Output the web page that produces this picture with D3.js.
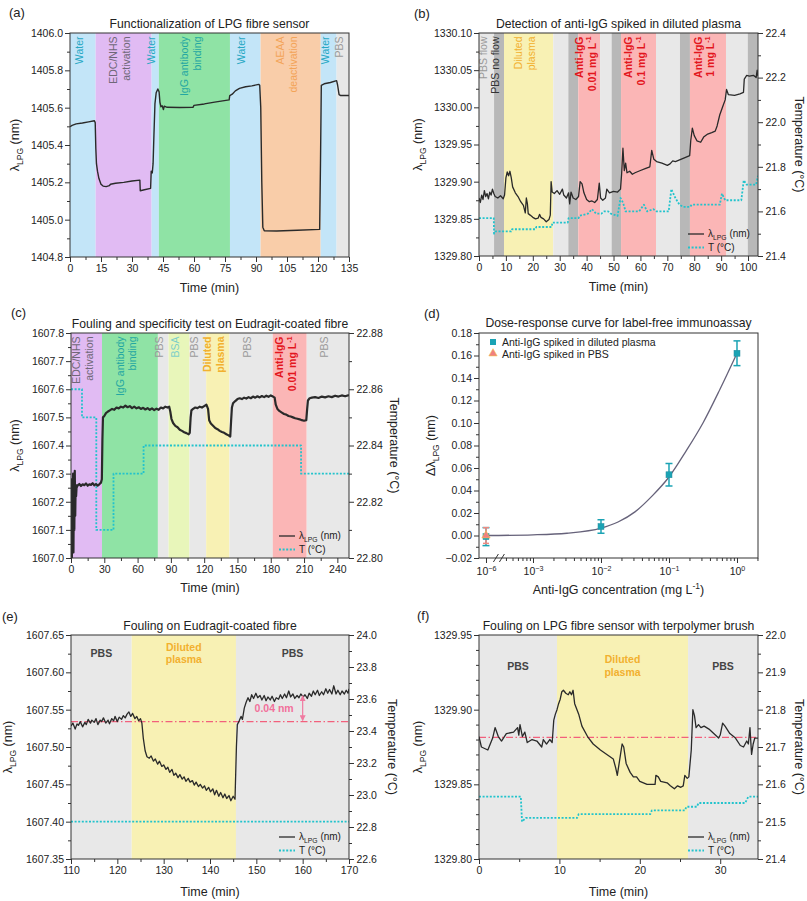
<!DOCTYPE html>
<html><head><meta charset="utf-8">
<script src="https://cdn.jsdelivr.net/npm/d3@7"></script>
<style>body{margin:0;background:#fff}svg{font-family:"Liberation Sans",Arial,sans-serif}</style>
</head><body><svg id="c" width="807" height="901"></svg>
<script>
// ---------------- DATA ----------------
// Panel (a)
const bandsA = [[0,12.4,"water",["Water"]],[12.4,39.5,"edc",["EDC/NHS","activation"]],[39.5,43,"water",["Water"]],[43,77.4,"igg",["IgG antibody","binding"]],[77.4,92.2,"water",["Water"]],[92.2,121.3,"aeaa",["AEAA","deactivation"]],[121.3,129,"water",["Water"]],[129,135,"pbs",["PBS"]]];
const lineA = [[0,1405.498],[1,1405.505],[3,1405.513],[6,1405.518],[9,1405.524],[11.8,1405.53],[12.2,1405.52],[12.5,1405.38],[12.8,1405.3],[13.3,1405.26],[14,1405.22],[15,1405.19],[16,1405.18],[17.5,1405.177],[19,1405.182],[19.6,1405.19],[22,1405.195],[26,1405.2],[30,1405.207],[33.8,1405.212],[34,1405.155],[36,1405.16],[39,1405.168],[39.3,1405.26],[39.8,1405.25],[40.2,1405.3],[40.6,1405.45],[41.1,1405.62],[41.7,1405.68],[42.5,1405.7],[43.1,1405.685],[43.5,1405.63],[44,1405.605],[44.6,1405.61],[45.2,1405.59],[45.6,1405.608],[47,1405.602],[53,1405.601],[59.5,1405.602],[60,1405.612],[65,1405.62],[70,1405.63],[77,1405.642],[77.3,1405.665],[78.5,1405.672],[80,1405.69],[82,1405.703],[85,1405.712],[88,1405.717],[91.3,1405.725],[91.8,1405.72],[92.3,1405.6],[92.8,1405.2],[93.3,1404.96],[94,1404.94],[100,1404.939],[110,1404.943],[120.8,1404.948],[121.2,1405.3],[121.6,1405.72],[123,1405.728],[126,1405.735],[129,1405.745],[129.5,1405.72],[130.2,1405.67],[131,1405.665],[135,1405.665]];
const xTicksA = [0,15,30,45,60,75,90,105,120,135];
const yTicksA = [1404.8,1405.0,1405.2,1405.4,1405.6,1405.8,1406.0];

// Panel (b)
const bandsB = [[0,5.6,"pbs",["PBS flow"]],[5.6,9.3,"noflow",["PBS no flow"]],[9.3,27.6,"plasma",["Diluted","plasma"]],[27.6,33.2,"pbs",[]],[33.2,36.9,"noflow",[]],[36.9,45,"anti",["Anti-IgG","0.01 mg L^{-1}"]],[45,49.3,"pbs",[]],[49.3,52.8,"noflow",[]],[52.8,65.8,"anti",["Anti-IgG","0.1 mg L^{-1}"]],[65.8,74.7,"pbs",[]],[74.7,78.4,"noflow",[]],[78.4,91.8,"anti",["Anti-IgG","1 mg L^{-1}"]],[91.8,99.9,"pbs",[]],[99.9,103.7,"noflow",[]]];
const lineB = [[0,1329.878],[0.5,1329.872],[1,1329.882],[1.5,1329.876],[2,1329.888],[2.5,1329.88],[3,1329.884],[3.5,1329.877],[4,1329.886],[4.5,1329.882],[5,1329.89],[5.5,1329.884],[6,1329.88],[7,1329.878],[8,1329.881],[9,1329.877],[9.5,1329.882],[10,1329.905],[10.5,1329.913],[11,1329.908],[11.5,1329.914],[12,1329.905],[12.5,1329.893],[13.5,1329.885],[14.5,1329.88],[15.5,1329.873],[16.5,1329.868],[17.2,1329.858],[17.6,1329.878],[18,1329.87],[18.3,1329.857],[19,1329.855],[20,1329.852],[21,1329.85],[22,1329.851],[22.5,1329.856],[23,1329.852],[24,1329.85],[25,1329.846],[26,1329.849],[26.5,1329.855],[26.8,1329.9],[27.2,1329.886],[28,1329.884],[29,1329.888],[30,1329.883],[31,1329.89],[31.5,1329.882],[32.5,1329.878],[33.3,1329.885],[33.7,1329.87],[34.2,1329.886],[35,1329.878],[36,1329.876],[37,1329.88],[37.6,1329.9],[38.3,1329.897],[39,1329.885],[40,1329.876],[41,1329.873],[42,1329.874],[43,1329.872],[44,1329.876],[44.7,1329.898],[45.2,1329.878],[46,1329.875],[47,1329.878],[47.5,1329.89],[48.5,1329.885],[50,1329.887],[51.5,1329.886],[52.6,1329.89],[53,1329.91],[53.5,1329.945],[54,1329.915],[54.5,1329.925],[55,1329.912],[56,1329.914],[57,1329.91],[58,1329.912],[60,1329.915],[62,1329.918],[63.5,1329.92],[64.2,1329.942],[65,1329.93],[66,1329.927],[68,1329.925],[70,1329.922],[71,1329.924],[72,1329.928],[73,1329.927],[75,1329.93],[77,1329.933],[78.3,1329.935],[78.7,1329.955],[79.3,1329.972],[80,1329.962],[81,1329.955],[82.4,1329.953],[83.5,1329.96],[85,1329.964],[86.5,1329.966],[87.8,1329.968],[88.5,1329.975],[89.5,1329.99],[90.5,1330.0],[91.5,1330.01],[92,1330.024],[92.7,1330.017],[95,1330.016],[97,1330.018],[98.3,1330.02],[98.6,1330.038],[99.5,1330.043],[100.5,1330.042],[102,1330.043],[103,1330.04],[103.4,1330.05],[103.7,1330.042]];
const tempB = [[0,21.57],[5.5,21.57],[5.6,21.50],[6.2,21.51],[12,21.51],[12.3,21.52],[21,21.52],[21.3,21.53],[27,21.53],[27.3,21.55],[33,21.55],[33.3,21.57],[37,21.57],[37.3,21.58],[40.5,21.59],[42,21.61],[43.5,21.59],[45.5,21.59],[46.5,21.6],[48,21.6],[49,21.59],[51.5,21.58],[52.6,21.66],[53.5,21.64],[54.5,21.6],[59.5,21.6],[61.3,21.63],[62.5,21.6],[64.8,21.61],[66,21.6],[70.5,21.6],[71.5,21.7],[73,21.66],[74.5,21.63],[76,21.62],[78.5,21.62],[79,21.63],[89.5,21.63],[90.3,21.68],[91.5,21.65],[97.5,21.65],[98.4,21.74],[99.5,21.72],[103,21.72],[103.7,21.76]];
const xTicksB = [0,10,20,30,40,50,60,70,80,90,100];
const yTicksB = [1329.80,1329.85,1329.90,1329.95,1330.00,1330.05,1330.10];
const yRTicksB = [21.4,21.6,21.8,22.0,22.2,22.4];

// Panel (c)
const bandsC = [[0,27.9,"edc",["EDC/NHS","activation"]],[27.9,78.3,"igg",["IgG antibody","binding"]],[78.3,87.9,"pbs",["PBS"]],[87.9,106.8,"bsa",["BSA"]],[106.8,121.8,"pbs",["PBS"]],[121.8,142.8,"plasma",["Diluted","plasma"]],[142.8,181.8,"pbs",["PBS"]],[181.8,212.4,"anti",["Anti-IgG","0.01 mg L^{-1}"]],[212.4,250.5,"pbs",["PBS"]]];
const lineC = [[0,1607.2],[0.4,1607.28],[0.8,1607.0],[1.2,1607.25],[1.5,1607.05],[1.9,1607.3],[2.2,1607.02],[2.6,1607.27],[3,1607.1],[3.4,1607.31],[3.8,1607.15],[4.2,1607.26],[4.6,1607.22],[5,1607.25],[6,1607.258],[7.5,1607.263],[9,1607.256],[10.5,1607.262],[12,1607.259],[13.5,1607.265],[15,1607.257],[16.5,1607.262],[18,1607.26],[19.5,1607.266],[21,1607.258],[22.5,1607.263],[24,1607.257],[25.5,1607.262],[27,1607.268],[27.8,1607.28],[28.3,1607.42],[28.8,1607.5],[30,1607.505],[31.5,1607.515],[33,1607.52],[35,1607.525],[37,1607.53],[39,1607.527],[41,1607.535],[43,1607.532],[45,1607.538],[47,1607.535],[49,1607.542],[51,1607.536],[53,1607.54],[55,1607.533],[57,1607.538],[59,1607.532],[61,1607.536],[63,1607.53],[65,1607.534],[67,1607.528],[69,1607.533],[71,1607.527],[73,1607.532],[75,1607.526],[77,1607.531],[79,1607.527],[81,1607.535],[83,1607.532],[85,1607.538],[87,1607.535],[88.5,1607.538],[89.5,1607.52],[90.5,1607.495],[92,1607.48],[94,1607.47],[96,1607.465],[98,1607.456],[100,1607.452],[102,1607.447],[104,1607.444],[106,1607.44],[107,1607.445],[107.8,1607.5],[108.5,1607.525],[110,1607.53],[112,1607.535],[114,1607.533],[116,1607.538],[118,1607.535],[120,1607.54],[122,1607.545],[123.5,1607.53],[124.5,1607.49],[126,1607.478],[128,1607.47],[130,1607.462],[132,1607.458],[134,1607.452],[136,1607.448],[138,1607.445],[140,1607.44],[142,1607.436],[143.5,1607.432],[144.3,1607.49],[145,1607.535],[146,1607.55],[148,1607.558],[150,1607.565],[152,1607.568],[154,1607.565],[156,1607.57],[158,1607.567],[160,1607.572],[162,1607.568],[164,1607.574],[166,1607.57],[168,1607.575],[170,1607.571],[172,1607.576],[174,1607.572],[176,1607.577],[178,1607.573],[180,1607.578],[182,1607.574],[183.5,1607.57],[184.5,1607.545],[186,1607.53],[188,1607.522],[190,1607.517],[192,1607.512],[194,1607.51],[196,1607.505],[198,1607.503],[200,1607.5],[202,1607.497],[204,1607.495],[206,1607.493],[208,1607.49],[210,1607.488],[212,1607.49],[212.8,1607.53],[213.5,1607.56],[215,1607.568],[217,1607.57],[220,1607.572],[223,1607.569],[226,1607.574],[229,1607.571],[232,1607.575],[235,1607.572],[238,1607.577],[241,1607.574],[244,1607.578],[247,1607.575],[250.5,1607.579]];
const tempC = [[0,22.86],[9.9,22.86],[9.9,22.85],[22.8,22.85],[22.8,22.81],[38.3,22.81],[38.3,22.83],[65.4,22.83],[65.4,22.84],[207.3,22.84],[207.3,22.83],[250.5,22.83]];
const xTicksC = [0,30,60,90,120,150,180,210,240];
const yTicksC = [1607.0,1607.1,1607.2,1607.3,1607.4,1607.5,1607.6,1607.7,1607.8];
const yRTicksC = [22.80,22.82,22.84,22.86,22.88];

// Panel (d)
const concD = [1e-6, 1e-2, 1e-1, 1];
const plasmaD = [-0.001, 0.008, 0.054, 0.162];
const plasmaErrD = [0.008, 0.006, 0.010, 0.011];
const pbsConcD = [1e-6];
const pbsD = [0.0];
const pbsErrD = [0.007];
const fitConcD = [1e-6, 1e-3, 3.16e-3, 1e-2, 1.78e-2, 3.16e-2, 5.62e-2, 0.1, 0.178, 0.316, 0.562, 1];
const fitD = [0.0, 0.0006, 0.002, 0.0065, 0.012, 0.021, 0.035, 0.052, 0.075, 0.1, 0.13, 0.162];
const xTicksD = [-6, -3, -2, -1, 0];
const yTicksD = [-0.02,0,0.02,0.04,0.06,0.08,0.10,0.12,0.14,0.16,0.18];

// Panel (e)
const bandsE = [[110,123.1,"pbs",["PBS"]],[123.1,145.6,"plasma",["Diluted","plasma"]],[145.6,170,"pbs",["PBS"]]];
const lineE = [[110,1607.528],[110.4,1607.532],[110.9,1607.524],[111.3,1607.531],[111.6,1607.529],[112,1607.534],[112.5,1607.527],[113,1607.533],[113.3,1607.53],[113.7,1607.537],[114.2,1607.532],[114.5,1607.536],[115,1607.533],[115.4,1607.538],[115.8,1607.53],[116.3,1607.536],[116.6,1607.534],[117,1607.539],[117.5,1607.532],[118,1607.536],[118.3,1607.531],[118.8,1607.538],[119.2,1607.535],[119.5,1607.541],[120,1607.534],[120.4,1607.54],[120.9,1607.537],[121.3,1607.542],[121.7,1607.539],[122.1,1607.544],[122.5,1607.547],[122.9,1607.541],[123.3,1607.545],[123.8,1607.538],[124.2,1607.541],[124.6,1607.535],[125,1607.538],[125.3,1607.532],[125.6,1607.512],[126,1607.495],[126.4,1607.487],[126.9,1607.485],[127.3,1607.488],[127.8,1607.481],[128.2,1607.484],[128.7,1607.477],[129.1,1607.481],[129.6,1607.474],[130,1607.476],[130.5,1607.47],[130.9,1607.473],[131.3,1607.466],[131.8,1607.47],[132.2,1607.462],[132.6,1607.465],[133.1,1607.459],[133.5,1607.463],[134,1607.457],[134.4,1607.46],[134.8,1607.454],[135.3,1607.458],[135.7,1607.453],[136.2,1607.455],[136.6,1607.449],[137,1607.453],[137.5,1607.447],[137.9,1607.45],[138.4,1607.445],[138.8,1607.448],[139.2,1607.442],[139.7,1607.446],[140.1,1607.44],[140.6,1607.444],[141,1607.436],[141.4,1607.442],[141.9,1607.434],[142.3,1607.439],[142.8,1607.432],[143.2,1607.437],[143.6,1607.431],[144.1,1607.435],[144.5,1607.428],[145,1607.434],[145.4,1607.43],[145.7,1607.5],[145.9,1607.53],[146.3,1607.535],[146.7,1607.541],[147,1607.537],[147.4,1607.552],[147.8,1607.56],[148.2,1607.566],[148.6,1607.561],[149,1607.57],[149.4,1607.565],[149.9,1607.572],[150.3,1607.566],[150.8,1607.569],[151.2,1607.563],[151.7,1607.569],[152.1,1607.562],[152.5,1607.567],[153,1607.563],[153.4,1607.568],[153.9,1607.561],[154.3,1607.566],[154.8,1607.564],[155.2,1607.57],[155.6,1607.565],[156.1,1607.571],[156.5,1607.566],[157,1607.575],[157.4,1607.567],[157.9,1607.571],[158.3,1607.565],[158.8,1607.569],[159.2,1607.566],[159.6,1607.571],[160.1,1607.567],[160.5,1607.57],[161,1607.565],[161.4,1607.572],[161.9,1607.568],[162.3,1607.575],[162.7,1607.57],[163.2,1607.576],[163.6,1607.569],[164.1,1607.574],[164.5,1607.57],[165,1607.578],[165.4,1607.572],[165.8,1607.577],[166.3,1607.571],[166.7,1607.582],[167.2,1607.571],[167.6,1607.576],[168.1,1607.57],[168.5,1607.575],[169,1607.571],[169.4,1607.576],[169.8,1607.572],[170,1607.578]];
const tempE = [[110,22.833],[170,22.833]];
const refE = 1607.534;
const shiftE = [1607.534, 1607.57, 160];
const xTicksE = [110,120,130,140,150,160,170];
const yTicksE = [1607.35,1607.40,1607.45,1607.50,1607.55,1607.60,1607.65];
const yRTicksE = [22.6,22.8,23.0,23.2,23.4,23.6,23.8,24.0];

// Panel (f)
const bandsF = [[0,9.7,"pbs",["PBS"]],[9.7,26.0,"plasma",["Diluted","plasma"]],[26.0,34.7,"pbs",["PBS"]]];
const lineF = [[0,1329.882],[0.3,1329.875],[1.1,1329.873],[1.7,1329.881],[2.0,1329.888],[2.4,1329.882],[2.8,1329.879],[3.4,1329.884],[4.3,1329.885],[4.8,1329.888],[4.95,1329.883],[5.1,1329.89],[5.4,1329.882],[5.7,1329.885],[6.0,1329.878],[6.6,1329.88],[7.2,1329.879],[7.8,1329.875],[8.0,1329.88],[8.4,1329.877],[8.8,1329.88],[9.1,1329.878],[9.3,1329.893],[9.5,1329.897],[9.7,1329.9],[9.9,1329.904],[10.1,1329.907],[10.3,1329.912],[10.5,1329.913],[10.8,1329.911],[11.1,1329.91],[11.3,1329.912],[11.5,1329.91],[11.7,1329.913],[11.9,1329.904],[12.4,1329.897],[12.8,1329.889],[13.5,1329.882],[14.2,1329.877],[15.1,1329.873],[15.9,1329.87],[16.7,1329.867],[17.0,1329.861],[17.2,1329.856],[17.6,1329.87],[17.8,1329.877],[18.0,1329.875],[18.3,1329.864],[18.8,1329.858],[19.2,1329.855],[19.6,1329.855],[20.0,1329.852],[20.9,1329.85],[21.9,1329.85],[22.0,1329.856],[22.3,1329.855],[22.6,1329.852],[23.4,1329.851],[23.8,1329.849],[24.3,1329.847],[24.7,1329.849],[25.1,1329.848],[25.4,1329.849],[25.6,1329.856],[25.9,1329.854],[26.1,1329.855],[26.4,1329.873],[26.6,1329.9],[26.8,1329.896],[27.0,1329.888],[27.3,1329.89],[27.6,1329.888],[28.0,1329.889],[28.6,1329.887],[29.4,1329.883],[29.8,1329.881],[30.0,1329.883],[30.3,1329.891],[30.6,1329.889],[31.2,1329.884],[31.9,1329.881],[32.5,1329.876],[32.9,1329.875],[33.3,1329.879],[33.5,1329.877],[33.7,1329.888],[33.9,1329.87],[34.1,1329.877],[34.3,1329.881],[34.7,1329.881]];
const tempF = [[0,21.567],[5.2,21.567],[5.35,21.50],[5.8,21.51],[12.2,21.51],[12.4,21.52],[21.3,21.52],[21.5,21.53],[25.6,21.53],[25.8,21.54],[27.1,21.54],[27.3,21.55],[33.1,21.55],[33.5,21.567],[34.7,21.567]];
const refF = 1329.8815;
const xTicksF = [0,10,20,30];
const yTicksF = [1329.80,1329.85,1329.90,1329.95];
const yRTicksF = [21.4,21.5,21.6,21.7,21.8,21.9,22.0];

// ---------------- STYLES ----------------
const bandFill = {water:"#c3e5f8", edc:"#e1bbf3", igg:"#8fe3a5", aeaa:"#f9cda9", pbs:"#e8e8e8", noflow:"#b8b8b8", plasma:"#f8f1b4", anti:"#fbb6b6", bsa:"#e8f6ba"};
const bandText = {water:"#27a8c4", edc:"#6f6878", igg:"#24a7a2", aeaa:"#f3a458", pbs:"#9a9a9a", noflow:"#333333", plasma:"#f2b02f", anti:"#e3151d", bsa:"#7ccfc9"};
const LINE = "#2a2a2a", TEMP = "#22c3cc", REF = "#f2607c";
const TITLE_FS = 12.2, AXT_FS = 12.5, TICK_FS = 10.5, BAND_FS = 10.5, LEG_FS = 10;
const svg = d3.select("#c");

function rich(sel, s, fs) {
  const parts = s.split(/(_\{[^}]*\}|\^\{[^}]*\})/);
  let off = 0;
  parts.forEach(p => {
    if (!p) return;
    let dy = 0, txt = p, size = fs;
    if (p.startsWith("_{")) { txt = p.slice(2,-1); size = fs*0.68; dy = fs*0.3 - off; off = fs*0.3; }
    else if (p.startsWith("^{")) { txt = p.slice(2,-1); size = fs*0.68; dy = -fs*0.4 - off; off = -fs*0.4; }
    else { dy = -off; off = 0; }
    sel.append("tspan").attr("dy", dy).attr("font-size", size).text(txt);
  });
  return sel;
}

function makePanel(o) {
  const g = svg.append("g").attr("transform", `translate(${o.left},${o.top})`);
  const {w, h, x, y} = o;
  const id = "clip" + o.tag;
  g.append("clipPath").attr("id", id).append("rect").attr("width", w).attr("height", h);
  const plot = g.append("g").attr("clip-path", `url(#${id})`);
  (o.bands || []).forEach(b => {
    plot.append("rect").attr("x", x(b[0])).attr("y", 0).attr("width", x(b[1]) - x(b[0])).attr("height", h).attr("fill", bandFill[b[2]]);
  });
  (o.bands || []).forEach(b => {
    const cx = (x(b[0]) + x(b[1])) / 2, n = b[3].length;
    b[3].forEach((s, i) => {
      if (o.horizLabels) {
        const t = g.append("text").attr("x", cx).attr("y", o.labelY + (i - (n - 1) / 2) * 12.5).attr("text-anchor", "middle")
          .attr("font-size", BAND_FS).attr("font-weight", "bold").attr("fill", b[2] === "pbs" ? "#444" : bandText[b[2]]);
        rich(t, s, BAND_FS);
      } else {
        const lx = cx + (i - (n - 1) / 2) * 12.8;
        const t = g.append("text").attr("transform", `translate(${lx},3.5) rotate(-90)`).attr("text-anchor", "end")
          .attr("dy", "0.36em").attr("font-size", BAND_FS).attr("fill", bandText[b[2]])
          .attr("font-weight", (b[2] === "anti" || (b[2] === "plasma" && o.boldPlasma)) ? "bold" : "normal");
        rich(t, s, BAND_FS);
      }
    });
  });
  return {g, plot};
}

function styleAxis(sel) {
  sel.selectAll(".domain").remove();
  sel.selectAll("line").attr("stroke", "#333");
  sel.selectAll("text").attr("font-size", TICK_FS).attr("fill", "#222").attr("font-family", '"Liberation Sans",Arial,sans-serif');
}
function minors(ticks, div) {
  const out = [];
  for (let i = 0; i < ticks.length - 1; i++) {
    const s = (ticks[i+1] - ticks[i]) / div;
    for (let k = 1; k < div; k++) out.push(ticks[i] + k * s);
  }
  return out;
}
function axes(P, o) {
  const {g} = P, {w, h, x, y} = o;
  const bx = g.append("g").attr("transform", `translate(0,${h})`)
    .call(d3.axisBottom(x).tickValues(o.xt).tickFormat(o.xf).tickSize(5).tickPadding(2.5));
  styleAxis(bx);
  if (o.xm) styleAxis(g.append("g").attr("transform", `translate(0,${h})`).call(d3.axisBottom(x).tickValues(o.xm).tickFormat("").tickSize(3)));
  const ly = g.append("g").call(d3.axisLeft(y).tickValues(o.yt).tickFormat(o.yf).tickSize(5).tickPadding(2));
  styleAxis(ly);
  styleAxis(g.append("g").call(d3.axisLeft(y).tickValues(minors(o.yt, o.ydiv)).tickFormat("").tickSize(3)));
  if (o.yR) {
    const ry = g.append("g").attr("transform", `translate(${w},0)`).call(d3.axisRight(o.yR).tickValues(o.yrt).tickFormat(o.yrf).tickSize(5).tickPadding(2.5));
    styleAxis(ry);
    styleAxis(g.append("g").attr("transform", `translate(${w},0)`).call(d3.axisRight(o.yR).tickValues(minors(o.yrt, 2)).tickFormat("").tickSize(3)));
    const rt = g.append("text").attr("transform", `translate(${o.yrTitleX},${h/2}) rotate(90)`).attr("text-anchor", "middle").attr("font-size", AXT_FS).attr("fill", "#222");
    rich(rt, "Temperature (°C)", AXT_FS);
  }
  g.append("rect").attr("width", w).attr("height", h).attr("fill", "none").attr("stroke", "#333").attr("stroke-width", 1);
  g.append("text").attr("x", w/2).attr("y", -5.5).attr("text-anchor", "middle").attr("font-size", TITLE_FS).attr("fill", "#222").text(o.title);
  svg.append("text").attr("x", o.lab[0]).attr("y", o.lab[1]).attr("font-size", 13).attr("fill", "#222").text(o.label);
  const xt = g.append("text").attr("x", w/2).attr("y", h + o.xTitleDy).attr("text-anchor", "middle").attr("font-size", AXT_FS).attr("fill", "#222");
  rich(xt, o.xTitle, AXT_FS);
  const yt = g.append("text").attr("transform", `translate(${o.yTitleX},${h/2}) rotate(-90)`).attr("text-anchor", "middle").attr("font-size", AXT_FS).attr("fill", "#222");
  rich(yt, o.yTitle, AXT_FS);
}
function legend(P, o) {
  const {g} = P, {w, h} = o;
  g.append("line").attr("x1", w-70).attr("x2", w-54).attr("y1", h-22).attr("y2", h-22).attr("stroke", LINE).attr("stroke-width", 1.3);
  g.append("line").attr("x1", w-70).attr("x2", w-54).attr("y1", h-8.5).attr("y2", h-8.5).attr("stroke", TEMP).attr("stroke-width", 1.8).attr("stroke-dasharray", "2,1.6");
  rich(g.append("text").attr("x", w-50).attr("y", h-19.5).attr("font-size", LEG_FS).attr("fill", "#222"), "λ_{LPG} (nm)", LEG_FS);
  rich(g.append("text").attr("x", w-50).attr("y", h-5).attr("font-size", LEG_FS).attr("fill", "#222"), "T (°C)", LEG_FS);
}
function drawLine(P, data, x, y, color, width, dash) {
  const p = P.plot.append("path").datum(data).attr("fill", "none").attr("stroke", color).attr("stroke-width", width)
    .attr("stroke-linejoin", "round").attr("d", d3.line().x(d => x(d[0])).y(d => y(d[1])));
  if (dash) p.attr("stroke-dasharray", dash);
  return p;
}
const f1 = d3.format(".1f"), f2 = d3.format(".2f"), f0 = d3.format("d");

// ---------- (a) ----------
{
  const w = 279, h = 224;
  const x = d3.scaleLinear().domain([0,135]).range([0,w]);
  const y = d3.scaleLinear().domain([1404.8,1406.0]).range([h,0]);
  const P = makePanel({tag:"a", left:70, top:33, w, h, x, y, bands:bandsA});
  drawLine(P, lineA, x, y, LINE, 1.4);
  axes(P, {w, h, x, y, xt:xTicksA, xm:minors(xTicksA,2), xf:f0, yt:yTicksA, ydiv:2, yf:f1,
    title:"Functionalization of LPG fibre sensor", label:"(a)", lab:[9,17], xTitle:"Time (min)", xTitleDy:35, yTitle:"λ_{LPG} (nm)", yTitleX:-51});
}
// ---------- (b) ----------
{
  const w = 279, h = 223;
  const x = d3.scaleLinear().domain([0,103.7]).range([0,w]);
  const y = d3.scaleLinear().domain([1329.80,1330.10]).range([h,0]);
  const yR = d3.scaleLinear().domain([21.4,22.4]).range([h,0]);
  const P = makePanel({tag:"b", left:479, top:33, w, h, x, y, bands:bandsB});
  drawLine(P, tempB, x, yR, TEMP, 1.8, "2,1.6");
  drawLine(P, lineB, x, y, LINE, 1.3);
  legend(P, {w, h});
  axes(P, {w, h, x, y, xt:xTicksB, xm:minors(xTicksB,2), xf:f0, yt:yTicksB, ydiv:2, yf:f2, yR, yrt:yRTicksB, yrf:f1, yrTitleX:w+37,
    title:"Detection of anti-IgG spiked in diluted plasma", label:"(b)", lab:[414,18], xTitle:"Time (min)", xTitleDy:35, yTitle:"λ_{LPG} (nm)", yTitleX:-57});
}
// ---------- (c) ----------
{
  const w = 278, h = 225;
  const x = d3.scaleLinear().domain([0,250.5]).range([0,w]);
  const y = d3.scaleLinear().domain([1607.0,1607.8]).range([h,0]);
  const yR = d3.scaleLinear().domain([22.80,22.88]).range([h,0]);
  const P = makePanel({tag:"c", left:71, top:333, w, h, x, y, bands:bandsC, boldPlasma:true});
  drawLine(P, tempC, x, yR, TEMP, 1.8, "2,1.6");
  drawLine(P, lineC, x, y, LINE, 2.2);
  legend(P, {w, h});
  axes(P, {w, h, x, y, xt:xTicksC, xm:minors(xTicksC,2), xf:f0, yt:yTicksC, ydiv:2, yf:f1, yR, yrt:yRTicksC, yrf:f2, yrTitleX:w+41,
    title:"Fouling and specificity test on Eudragit-coated fibre", label:"(c)", lab:[11,317], xTitle:"Time (min)", xTitleDy:34, yTitle:"λ_{LPG} (nm)", yTitleX:-52});
}
// ---------- (d) ----------
{
  const w = 279, h = 225;
  const x = d3.scaleLog().domain([10**-6.103, 10**-5.81, 10**-3.5, 10**0.309]).range([0, 19.9, 20, w]);
  const y = d3.scaleLinear().domain([-0.02,0.18]).range([h,0]);
  const P = makePanel({tag:"d", left:479, top:333, w, h, x, y});
  const {g, plot} = P;
  plot.append("path").datum(fitConcD.map((c,i)=>[c,fitD[i]])).attr("fill","none").attr("stroke","#66627a").attr("stroke-width",1.3)
    .attr("d", d3.line().x(d=>x(d[0])).y(d=>y(d[1])).curve(d3.curveMonotoneX));
  function ebar(cx, v, e, color, cw) {
    plot.append("line").attr("x1",x(cx)).attr("x2",x(cx)).attr("y1",y(v-e)).attr("y2",y(v+e)).attr("stroke",color).attr("stroke-width",1.5);
    [v-e, v+e].forEach(t => plot.append("line").attr("x1",x(cx)-cw).attr("x2",x(cx)+cw).attr("y1",y(t)).attr("y2",y(t)).attr("stroke",color).attr("stroke-width",1.5));
  }
  concD.forEach((c,i) => ebar(c, plasmaD[i], plasmaErrD[i], "#1ba3b4", 3.5));
  pbsConcD.forEach((c,i) => ebar(c, pbsD[i], pbsErrD[i], "#f08a80", 3));
  concD.forEach((c,i) => plot.append("rect").attr("x",x(c)-3).attr("y",y(plasmaD[i])-3).attr("width",6).attr("height",6).attr("fill","#1ba3b4").attr("stroke","#2a8fa0").attr("stroke-width",0.5));
  const tri = d3.symbol().type(d3.symbolTriangle).size(30);
  pbsConcD.forEach((c,i) => plot.append("path").attr("d",tri()).attr("transform",`translate(${x(c)},${y(pbsD[i])})`).attr("fill","#f08080").attr("stroke","#f3c14a").attr("stroke-width",0.6));
  const bx = g.append("g").attr("transform",`translate(0,${h})`).call(d3.axisBottom(x).tickValues(xTicksD.map(e=>10**e)).tickFormat("").tickSize(5));
  styleAxis(bx);
  bx.selectAll(".tick").append("text").attr("y", 17).attr("text-anchor","middle").attr("fill","#222").attr("font-size",TICK_FS)
    .each(function(d){ const e = Math.round(Math.log10(d)); rich(d3.select(this), "10^{" + (e<0 ? "−"+(-e) : e) + "}", TICK_FS); });
  const mins = [];
  for (let e = -4; e <= 0; e++) for (let k = 2; k <= 9; k++) { const v = k * 10**e; if (v > 10**-3.49 && v < 10**0.309) mins.push(v); }
  styleAxis(g.append("g").attr("transform",`translate(0,${h})`).call(d3.axisBottom(x).tickValues(mins).tickFormat("").tickSize(3)));
  const ly = g.append("g").call(d3.axisLeft(y).tickValues(yTicksD).tickFormat(d => (d<0?"−":"") + f2(Math.abs(d))).tickSize(5).tickPadding(2));
  styleAxis(ly);
  styleAxis(g.append("g").call(d3.axisLeft(y).tickValues(minors(yTicksD,2)).tickFormat("").tickSize(3)));
  g.append("rect").attr("width",w).attr("height",h).attr("fill","none").attr("stroke","#333");
  const bxp = x(10**-5.81);
  [-3, 3].forEach(dx => g.append("line").attr("x1",bxp+dx-2.5).attr("x2",bxp+dx+2.5).attr("y1",h+4).attr("y2",h-4).attr("stroke","#333").attr("stroke-width",1));
  g.append("text").attr("x", w/2).attr("y", -6).attr("text-anchor","middle").attr("font-size",TITLE_FS).attr("fill","#222").text("Dose-response curve for label-free immunoassay");
  svg.append("text").attr("x",424).attr("y",318).attr("font-size",13).attr("fill","#222").text("(d)");
  rich(g.append("text").attr("x", w/2).attr("y", h+36).attr("text-anchor","middle").attr("font-size",AXT_FS).attr("fill","#222"), "Anti-IgG concentration (mg L^{-1})", AXT_FS);
  rich(g.append("text").attr("transform",`translate(-44,${h/2}) rotate(-90)`).attr("text-anchor","middle").attr("font-size",AXT_FS).attr("fill","#222"), "Δλ_{LPG} (nm)", AXT_FS);
  g.append("rect").attr("x",11).attr("y",6).attr("width",6).attr("height",6).attr("fill","#1ba3b4");
  g.append("path").attr("d",tri()).attr("transform","translate(14,20.5)").attr("fill","#f08080").attr("stroke","#f3c14a").attr("stroke-width",0.6);
  g.append("text").attr("x",23).attr("y",12.5).attr("font-size",10.5).attr("fill","#222").text("Anti-IgG spiked in diluted plasma");
  g.append("text").attr("x",23).attr("y",24.5).attr("font-size",10.5).attr("fill","#222").text("Anti-IgG spiked in PBS");
}
// ---------- (e) ----------
{
  const w = 278, h = 224;
  const x = d3.scaleLinear().domain([110,170]).range([0,w]);
  const y = d3.scaleLinear().domain([1607.35,1607.65]).range([h,0]);
  const yR = d3.scaleLinear().domain([22.6,24.0]).range([h,0]);
  const P = makePanel({tag:"e", left:71, top:635, w, h, x, y, bands:bandsE, horizLabels:true, labelY:22});
  drawLine(P, tempE, x, yR, TEMP, 1.8, "2,1.6");
  drawLine(P, [[110,refE],[170,refE]], x, y, REF, 1.3, "7,2.5,1.5,2.5");
  drawLine(P, lineE, x, y, LINE, 1.3);
  const ax = x(shiftE[2]);
  P.g.append("defs").html('<marker id="ah" viewBox="0 0 10 10" refX="9" refY="5" markerWidth="5" markerHeight="5" orient="auto-start-reverse"><path d="M0,0L10,5L0,10z" fill="#f07aa0"/></marker>');
  P.g.append("line").attr("x1",ax).attr("x2",ax).attr("y1",y(shiftE[0])-1).attr("y2",y(shiftE[1])+1).attr("stroke","#f07aa0").attr("stroke-width",1.2)
    .attr("marker-start","url(#ah)").attr("marker-end","url(#ah)");
  P.g.append("text").attr("x",ax-9).attr("y",(y(shiftE[0])+y(shiftE[1]))/2+3.5).attr("text-anchor","end").attr("font-size",10.5).attr("font-weight","bold").attr("fill","#f2709a").text("0.04 nm");
  legend(P, {w, h});
  axes(P, {w, h, x, y, xt:xTicksE, xm:minors(xTicksE,2), xf:f0, yt:yTicksE, ydiv:2, yf:f2, yR, yrt:yRTicksE, yrf:f1, yrTitleX:w+39,
    title:"Fouling on Eudragit-coated fibre", label:"(e)", lab:[2,621], xTitle:"Time (min)", xTitleDy:37, yTitle:"λ_{LPG} (nm)", yTitleX:-59});
}
// ---------- (f) ----------
{
  const w = 279, h = 224;
  const x = d3.scaleLinear().domain([0,34.7]).range([0,w]);
  const y = d3.scaleLinear().domain([1329.80,1329.95]).range([h,0]);
  const yR = d3.scaleLinear().domain([21.4,22.0]).range([h,0]);
  const P = makePanel({tag:"f", left:479, top:635, w, h, x, y, bands:bandsF, horizLabels:true, labelY:34.5});
  drawLine(P, tempF, x, yR, TEMP, 1.8, "2,1.6");
  drawLine(P, [[0,refF],[34.7,refF]], x, y, REF, 1.3, "7,2.5,1.5,2.5");
  drawLine(P, lineF, x, y, LINE, 1.3);
  legend(P, {w, h});
  axes(P, {w, h, x, y, xt:xTicksF, xm:minors([0,10,20,30,40],2).filter(v=>v<34.7), xf:f0, yt:yTicksF, ydiv:5, yf:f2, yR, yrt:yRTicksF, yrf:f1, yrTitleX:w+37,
    title:"Fouling on LPG fibre sensor with terpolymer brush", label:"(f)", lab:[417,620], xTitle:"Time (min)", xTitleDy:37, yTitle:"λ_{LPG} (nm)", yTitleX:-57});
}
</script></body></html>
